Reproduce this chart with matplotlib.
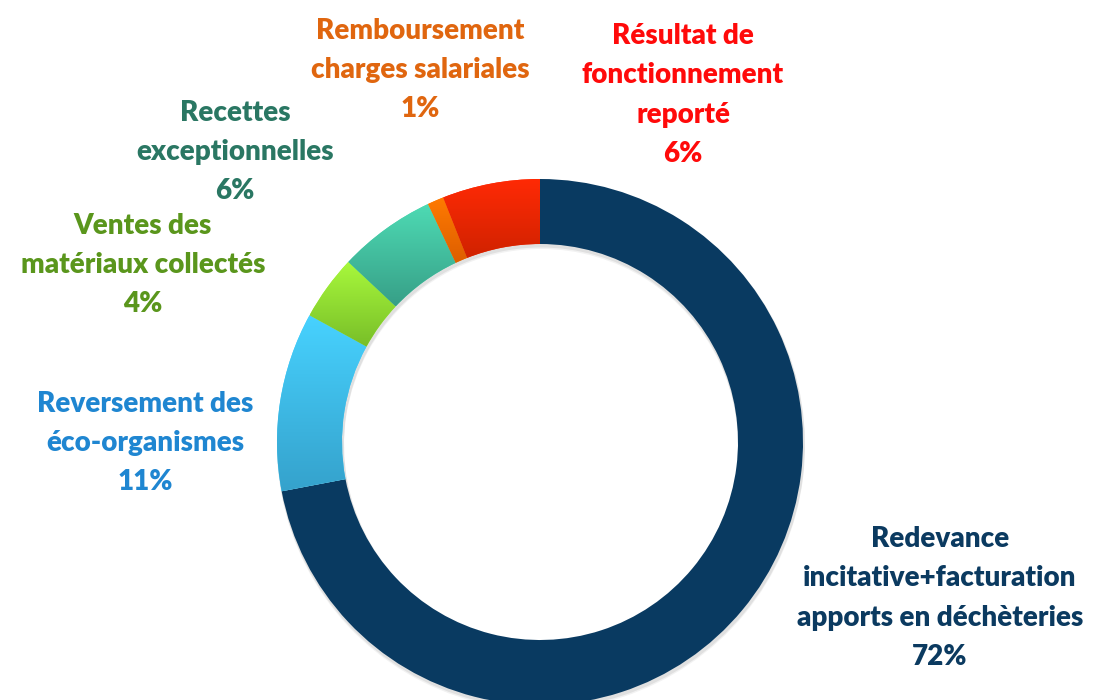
import numpy as np
import matplotlib
matplotlib.use("Agg")
import matplotlib.pyplot as plt
from matplotlib.colors import LinearSegmentedColormap

# recettes : répartition en pourcentage
labels = ["Redevance\nincitative+facturation\napports en déchèteries",
          "Reversement des\néco-organismes",
          "Ventes des\nmatériaux collectés",
          "Recettes\nexceptionnelles",
          "Remboursement\ncharges salariales",
          "Résultat de\nfonctionnement\nreporté"]
values = [72, 11, 4, 6, 1, 6]

# couleurs (haut, bas) du dégradé de chaque part, et couleur du texte
top_cols = ["#093a61", "#47d2ff", "#a8f83c", "#4edbb4", "#ff7a00", "#ff2a05"]
bot_cols = ["#093a61", "#35a2cc", "#78be28", "#379f87", "#dd5e00", "#d02200"]
txt_cols = ["#0b3a60", "#1f86d1", "#5a961c", "#2a7763", "#e0660f", "#ff0a0a"]

# centre des étiquettes (pixels, origine en bas)
lab_xy = [(940, 700 - 598), (145, 700 - 443), (143, 700 - 265),
          (235, 700 - 152), (420, 700 - 70), (683, 700 - 95)]

plt.rcParams['font.family'] = ['Lato', 'DejaVu Sans']

fig = plt.figure(figsize=(10.96, 7), dpi=100)
ax = fig.add_axes([0, 0, 1, 1])

cx, cy, R, W = 540, 258, 263, 65

# ombre légère sous l'anneau
for k, a in [(4, 0.05), (2.5, 0.07)]:
    sh, _ = ax.pie(values, startangle=90, counterclock=False,
                   center=(cx + 1, cy - k), radius=R + 1,
                   colors=["#000000"] * len(values),
                   wedgeprops=dict(width=W + 2, linewidth=0, alpha=a))

wedges, _ = ax.pie(values, startangle=90, counterclock=False,
                   center=(cx, cy), radius=R, colors=top_cols,
                   wedgeprops=dict(width=W, linewidth=0))

grad = np.linspace(0, 1, 256).reshape(-1, 1)
for w, c0, c1 in zip(wedges, bot_cols, top_cols):
    if c0 == c1:
        continue
    bb = w.get_path().get_extents()
    cmap = LinearSegmentedColormap.from_list("g", [c0, c1])
    im = ax.imshow(grad, cmap=cmap, origin="lower", aspect="auto",
                   extent=(bb.x0, bb.x1, bb.y0, bb.y1), zorder=w.get_zorder() + 0.1,
                   interpolation="bilinear")
    im.set_clip_path(w)

for lab, v, (x, y), c in zip(labels, values, lab_xy, txt_cols):
    ax.text(x, y, f"{lab}\n{v}%", ha="center", va="center", color=c,
            fontsize=20, fontweight="heavy", linespacing=1.62)

ax.set_xlim(0, 1096)
ax.set_ylim(0, 700)
ax.set_aspect("equal")
ax.axis("off")

fig.savefig("out.png", dpi=100)
